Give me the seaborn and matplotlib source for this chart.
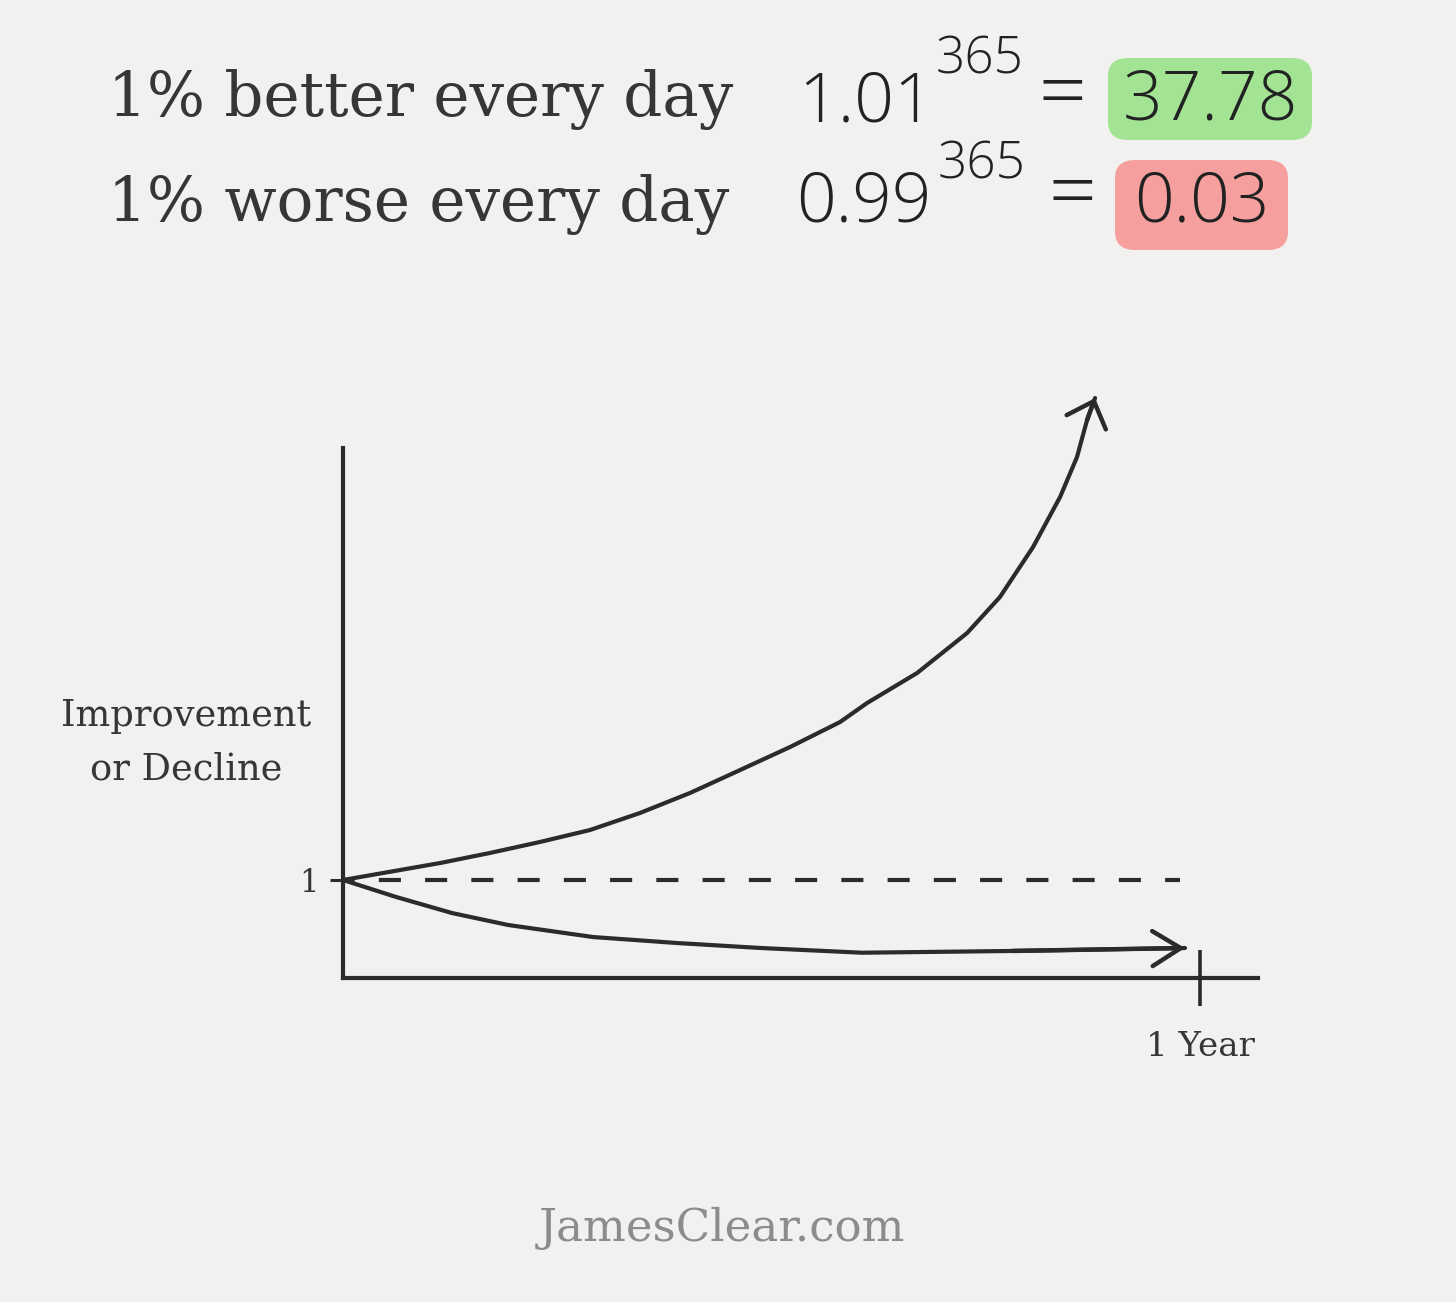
import numpy as np
import pandas as pd
import matplotlib
matplotlib.use("Agg")
import matplotlib.pyplot as plt
import seaborn as sns
from matplotlib.patches import FancyBboxPatch

# ---------------- data ----------------
better_days = [0, 41.3, 62.6, 83.9, 105.2, 126.5, 147.8, 169.1, 190.4, 211.7,
               223.2, 244.5, 265.8, 279.8, 293.9, 305.4, 312.6, 316.9, 320.3]
better_vals = [1.0, 1.173, 1.276, 1.388, 1.510, 1.684, 1.888, 2.122, 2.357, 2.612,
               2.806, 3.112, 3.520, 3.888, 4.398, 4.908, 5.316, 5.694, 5.918]
worse_days = [0, 22.6, 46.4, 70.3, 106.5, 142.2, 178.0, 221.0, 285.3, 358.6]
worse_vals = [1.0, 0.827, 0.663, 0.541, 0.418, 0.357, 0.306, 0.258, 0.276, 0.306]
baseline_days = [0, 356.5]
baseline_vals = [1.0, 1.0]
year_tick = [365]
year_labels = ["1 Year"]
one_tick = [1]
one_labels = ["1"]

BG = "#f2f1ef"
INK = "#2b2b2b"
TXT = "#363636"
W, H = 1456, 1302

sns.set_theme(style="white")
plt.rcParams["font.family"] = ["DejaVu Serif"]

fig = plt.figure(figsize=(W / 100, H / 100), dpi=100, facecolor=BG)

# axes positioned so origin is at pixel (343, 978)
x0, y0, x1, y1 = 343, 978, 1258, 448
ax = fig.add_axes([x0 / W, 1 - y0 / H, (x1 - x0) / W, (y0 - y1) / H])
ax.set_facecolor(BG)
ax.set_xlim(0, (x1 - x0) / 2.348)
ax.set_ylim(0, (y0 - y1) / 98.0)

df_b = pd.DataFrame({"day": better_days, "val": better_vals})
df_w = pd.DataFrame({"day": worse_days, "val": worse_vals})
df_0 = pd.DataFrame({"day": baseline_days, "val": baseline_vals})

line_kw = dict(color=INK, clip_on=False, estimator=None, sort=False,
               solid_joinstyle="round", solid_capstyle="round")
sns.lineplot(data=df_b, x="day", y="val", ax=ax, lw=3.0, **line_kw)
sns.lineplot(data=df_w, x="day", y="val", ax=ax, lw=3.0, **line_kw)
sns.lineplot(data=df_0, x="day", y="val", ax=ax, color=INK, lw=3.0, clip_on=False,
             estimator=None, sort=False, linestyle=(2.5, (5.3, 5.8)))

# arrow heads at curve ends
for xs, ys, hl, hw in [(better_days, better_vals, 1.35, 1.25),
                       (worse_days, worse_vals, 1.7, 1.05)]:
    ax.annotate("", xy=(xs[-1], ys[-1]), xytext=(xs[-2], ys[-2]),
                arrowprops=dict(arrowstyle=f"->,head_length={hl},head_width={hw}",
                                color=INK, lw=3.2, shrinkA=0, shrinkB=0,
                                joinstyle="round", capstyle="round"),
                annotation_clip=False)

for s in ["top", "right"]:
    ax.spines[s].set_visible(False)
for s in ["left", "bottom"]:
    ax.spines[s].set_color(INK)
    ax.spines[s].set_linewidth(3.0)

ax.set_xticks(year_tick)
ax.set_xticklabels(year_labels, fontsize=24.5, color=TXT)
ax.set_yticks(one_tick)
ax.set_yticklabels(one_labels, fontsize=22, color=TXT)
ax.tick_params(axis="x", bottom=True, direction="inout", length=41, width=2.6,
               color=INK, pad=18)
ax.tick_params(axis="y", left=True, direction="out", length=9.5, width=2.2,
               color=INK, pad=8)
ax.set_xlabel("")
ax.set_ylabel("")


def fx(px):
    return px / W


def fy(py):
    return 1 - py / H


# y label
fig.text(fx(186), fy(743), "Improvement\nor Decline", ha="center", va="center",
         fontsize=26.5, color=TXT, linespacing=1.62)

# headline
fig.text(fx(108), fy(100), "1% better every day", ha="left", va="center",
         fontsize=44, color=TXT)
fig.text(fx(108), fy(205), "1% worse every day", ha="left", va="center",
         fontsize=44, color=TXT)

hand = dict(family=["Open Sans", "DejaVu Sans"], color="#222222", fontweight="light")
fig.text(fx(866), fy(104), "1.01", ha="center", va="center", fontsize=50, **hand)
fig.text(fx(980), fy(60), "365", ha="center", va="center", fontsize=37, **hand)
fig.text(fx(1062), fy(98), "=", ha="center", va="center", fontsize=60, **hand)
fig.text(fx(864), fy(203), "0.99", ha="center", va="center", fontsize=50, **hand)
fig.text(fx(982), fy(165), "365", ha="center", va="center", fontsize=37, **hand)
fig.text(fx(1072), fy(198), "=", ha="center", va="center", fontsize=60, **hand)

# highlighted results
for (bx0, by0, bx1, by1, col, label, ty) in [
        (1108, 58, 1312, 140, "#a2e394", "37.78", 101),
        (1115, 160, 1288, 250, "#f5a09e", "0.03", 204)]:
    box = FancyBboxPatch((fx(bx0), fy(by1)), fx(bx1) - fx(bx0), fy(by0) - fy(by1),
                         boxstyle="round,pad=0,rounding_size=0.014",
                         transform=fig.transFigure, facecolor=col, edgecolor="none",
                         zorder=0)
    fig.patches.append(box)
    fig.text(fx((bx0 + bx1) / 2), fy(ty), label, ha="center", va="center",
             fontsize=50, zorder=2, **hand)

# footer
fig.text(fx(722), fy(1228), "JamesClear.com", ha="center", va="center",
         fontsize=32.5, color="#8c8c8c")

fig.savefig("out.png", dpi=100, facecolor=BG)
